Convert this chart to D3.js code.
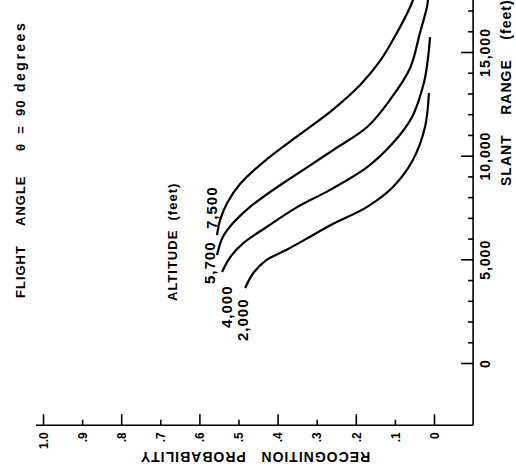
<!DOCTYPE html>
<html>
<head>
<meta charset="utf-8">
<script src="https://cdn.jsdelivr.net/npm/d3@7"></script>
<style>
    body { margin: 0; background: #fff; }
    svg { display: block; font-family: "Liberation Sans", Arial, sans-serif; font-weight: bold; }
</style>
</head>
<body>
<div id="chart-container"></div>
<script>
// Curve labels (altitude in feet)
const altitudes = ["2,000", "4,000", "5,700", "7,500"];

// Slant range (feet) and recognition probability
const range2000 = [3620, 4340, 4970, 5450, 6080, 6660, 7520, 8490, 9790, 11380, 13020];
const prob2000 = [0.483, 0.462, 0.428, 0.378, 0.318, 0.264, 0.172, 0.105, 0.054, 0.023, 0.013];

const range4000 = [4390, 5110, 5790, 6560, 7520, 8340, 9450, 10610, 11870, 13500, 14610, 15720];
const prob4000 = [0.542, 0.521, 0.487, 0.428, 0.350, 0.267, 0.171, 0.105, 0.056, 0.026, 0.016, 0.010];

const range5700 = [5210, 6080, 6750, 7520, 8340, 9210, 10270, 11380, 12680, 14230, 15920, 17170, 17600];
const prob5700 = [0.555, 0.540, 0.514, 0.471, 0.412, 0.343, 0.258, 0.171, 0.113, 0.061, 0.036, 0.018, 0.015];

const range7500 = [6170, 6900, 7720, 8680, 9790, 11000, 12200, 13410, 14570, 15920, 17170, 17600];
const prob7500 = [0.555, 0.547, 0.529, 0.494, 0.430, 0.345, 0.260, 0.189, 0.138, 0.095, 0.061, 0.052];

// Tick values
const probTicks = [0, 0.1, 0.2, 0.3, 0.4, 0.5, 0.6, 0.7, 0.8, 0.9, 1.0];
const rangeMajorTicks = [0, 5000, 10000, 15000];
const rangeMinorTicks = [1000, 2000, 3000, 4000, 6000, 7000, 8000, 9000, 11000, 12000, 13000, 14000, 16000, 17000];

document.addEventListener("DOMContentLoaded", function() {
    const width = 516;
    const height = 472;

    const curves = [
        { name: altitudes[0], range: range2000, prob: prob2000, lx: 248, ly: 341 },
        { name: altitudes[1], range: range4000, prob: prob4000, lx: 232, ly: 328 },
        { name: altitudes[2], range: range5700, prob: prob5700, lx: 215, ly: 284 },
        { name: altitudes[3], range: range7500, prob: prob7500, lx: 217, ly: 229 }
    ];

    // The whole figure is printed turned a quarter turn: probability runs along x, range along y
    const xProb = d3.scaleLinear().domain([0, 1]).range([434, 43]);
    const yRange = d3.scaleLinear().domain([0, 15000]).range([363, 52]);

    const svg = d3.select("#chart-container").append("svg")
        .attr("width", width)
        .attr("height", height);

    const cornerX = xProb(-0.1);
    const cornerY = yRange(-3000);

    // Frame lines
    svg.append("line")
        .attr("x1", xProb(1.018)).attr("x2", cornerX)
        .attr("y1", cornerY).attr("y2", cornerY)
        .attr("stroke", "#000").attr("stroke-width", 1.6);
    svg.append("line")
        .attr("x1", cornerX).attr("x2", cornerX)
        .attr("y1", cornerY).attr("y2", yRange(17600))
        .attr("stroke", "#000").attr("stroke-width", 1.6);

    // Probability axis (ticks pointing up)
    const probAxis = svg.append("g")
        .attr("transform", "translate(0," + cornerY + ")")
        .call(d3.axisTop(xProb)
            .tickValues(probTicks)
            .tickSize(11)
            .tickFormat(d => d === 0 ? "0" : d === 1 ? "1.0" : d.toFixed(1).replace("0.", ".")));
    probAxis.select(".domain").remove();
    probAxis.selectAll(".tick line")
        .attr("stroke-width", 1.6)
        .attr("y2", (d, i) => i % 2 === 0 ? -11 : -5.5);
    probAxis.selectAll(".tick text")
        .attr("y", 0).attr("dy", "0.35em")
        .attr("transform", "translate(0,7) rotate(-90)")
        .attr("text-anchor", "end")
        .attr("font-size", 12)
        .attr("font-family", "Liberation Sans, Arial, sans-serif")
        .attr("font-weight", "bold");

    // Slant range axis (ticks pointing left, labels right)
    const rangeAxis = svg.append("g")
        .attr("transform", "translate(" + cornerX + ",0)")
        .call(d3.axisRight(yRange)
            .tickValues(rangeMajorTicks)
            .tickSize(-12)
            .tickFormat(d3.format(",")));
    rangeAxis.select(".domain").remove();
    rangeAxis.selectAll(".tick line").attr("stroke-width", 1.6);
    rangeAxis.selectAll(".tick text")
        .attr("x", 0).attr("dy", 0)
        .attr("transform", "translate(17,0) rotate(-90)")
        .attr("text-anchor", "middle")
        .attr("font-size", 14)
        .attr("letter-spacing", 1)
        .attr("font-family", "Liberation Sans, Arial, sans-serif")
        .attr("font-weight", "bold");

    const rangeMinor = svg.append("g")
        .attr("transform", "translate(" + cornerX + ",0)")
        .call(d3.axisRight(yRange)
            .tickValues(rangeMinorTicks)
            .tickSize(-5)
            .tickFormat(""));
    rangeMinor.select(".domain").remove();
    rangeMinor.selectAll(".tick line").attr("stroke-width", 1.6);

    // Function to draw the curves
    const line = d3.line()
        .x(d => xProb(d.p))
        .y(d => yRange(d.r))
        .curve(d3.curveCatmullRom.alpha(0.5));

    svg.selectAll(".curve")
        .data(curves)
        .enter().append("path")
        .attr("class", "curve")
        .attr("fill", "none")
        .attr("stroke", "#000")
        .attr("stroke-width", 2.2)
        .attr("d", c => line(c.range.map((r, i) => ({ r: r, p: c.prob[i] }))));

    // Curve labels
    svg.selectAll(".alt-label")
        .data(curves)
        .enter().append("text")
        .attr("class", "alt-label")
        .attr("transform", c => "translate(" + c.lx + "," + c.ly + ") rotate(-90)")
        .attr("font-size", 15)
        .attr("letter-spacing", 1)
        .text(c => c.name);

    // Rotated text helper
    function addText(x, y, angle, txt, size, anchor, spacing) {
        svg.append("text")
            .attr("transform", "translate(" + x + "," + y + ") rotate(" + angle + ")")
            .attr("text-anchor", anchor || "start")
            .attr("font-size", size)
            .attr("letter-spacing", spacing === undefined ? 1 : spacing)
            .style("white-space", "pre")
            .text(txt);
    }

    addText(177, 301, -90, "ALTITUDE  (feet)", 13);
    addText(511, 186, -90, "SLANT    RANGE    (feet)", 14);
    addText(255, 452, 180, "RECOGNITION   PROBABILITY", 14, "middle");

    // Title pieces
    addText(25, 298, -90, "FLIGHT", 13);
    addText(25, 226, -90, "ANGLE", 13);
    addText(25, 151, -90, "\u03b8  =  90", 13);
    addText(25, 92, -90, "degrees", 14, "start", 2.5);
});
</script>
</body>
</html>
